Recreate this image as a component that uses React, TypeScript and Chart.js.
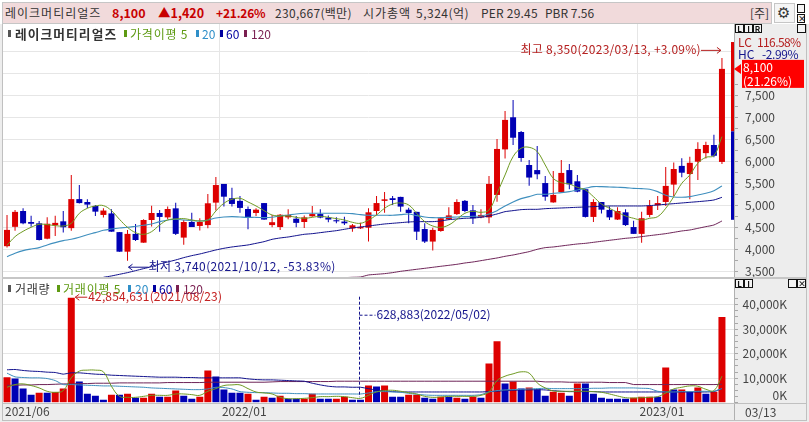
import React, { useEffect, useRef } from "react";
import { Chart, registerables } from "chart.js";

Chart.register(...registerables);

const FONT = '"Noto Sans CJK KR", "Noto Sans", sans-serif';
const RED = "#dd0000";
const BLUE = "#0000b4";
const C_MA5 = "#6f9a22";
const C_MA20 = "#3f8fbe";
const C_MA60 = "#10108c";
const C_MA120 = "#6e2458";

const tickIndexes = [0, 27, 79];
const tickTexts = ["2021/06", "2022/01", "2023/01"];
const priceTicks = [3500,3750,4000,4250,4500,4750,5000,5250,5500,5750,6000,6250,6500,6750,7000,7250,7500,7750,8000,8500];
const volumeTicks = [0,2500,5000,7500,10000,12500,15000,17500,20000,22500,25000,27500,30000,32500,35000,37500,40000,42500];

const open = [
  4070,4510,4870,4620,4590,4240,4545,4635,4480,5140,
  5075,4985,4780,4815,4390,3945,4350,4150,4665,4825,
  4725,4930,4265,4620,4530,4550,5060,5485,5160,5100,
  4915,4825,5050,4550,4505,4725,4695,4620,4750,4800,
  4720,4660,4630,4475,4475,4490,4870,5100,5160,5190,
  4900,4850,4460,4175,4415,4680,4800,5100,4885,4725,
  4725,5235,6270,7000,6665,5915,5800,5505,5065,5300,
  5800,5545,5365,4735,5075,4895,4675,4840,4505,4350,
  4780,5000,5075,5470,5895,5710,5990,6185,6370,5985,
];
const high = [
  4780,4890,4930,4760,4640,4730,4760,4870,5690,5460,
  5135,5005,4930,4910,4390,4440,4575,4680,4990,4895,
  4970,5060,4665,4830,4705,5255,5645,5485,5400,5210,
  4970,4930,5050,4780,4800,4910,4755,4765,4985,4910,
  4770,4725,4740,4575,4605,4930,5210,5300,5210,5195,
  4945,4855,4590,4490,4725,4955,5135,5120,5005,4910,
  5665,6505,7145,7395,6690,6030,6345,5665,5780,6030,
  5940,5690,5365,5135,5075,4970,4955,4910,4650,4850,
  5120,5210,5870,5970,6070,6105,6430,6445,6600,8350,
];
const low = [
  4040,4420,4570,4510,4200,4230,4300,4380,4420,5040,
  4940,4755,4720,4400,3945,3740,4190,4150,4515,4400,
  4690,4325,4105,4505,4425,4475,4880,4970,4970,4830,
  4455,4755,4670,4500,4440,4680,4500,4485,4740,4705,
  4615,4590,4550,4400,4460,4175,4780,4830,5005,4855,
  4590,4210,4145,3970,4400,4665,4780,4840,4575,4705,
  4590,5080,6065,6370,5990,5445,5590,5105,5060,5285,
  5365,5295,4720,4620,4815,4665,4665,4530,4350,4150,
  4725,4895,4985,5210,5635,5135,5575,6065,6090,5940,
];
const close = [
  4440,4850,4590,4580,4210,4580,4600,4500,5140,5050,
  5015,4855,4880,4400,3945,4350,4210,4665,4825,4735,
  4915,4350,4620,4505,4620,5045,5460,5195,5030,4940,
  4725,4900,4675,4615,4785,4780,4600,4725,4800,4720,
  4675,4635,4590,4545,4505,4840,5050,5135,5120,4970,
  4825,4400,4175,4440,4705,4770,5075,4870,4705,4780,
  5485,6280,6940,6535,6075,5630,5705,5195,5235,5735,
  5475,5310,4735,5075,4900,4725,4870,4550,4350,4705,
  4990,5050,5440,5825,5740,5965,6280,6370,6125,8100,
];
const priceMa5 = [
  4090,4287,4408,4499,4567,4560,4537,4529,4590,4817,
  4931,4984,4992,4878,4681,4499,4378,4340,4401,4552,
  4666,4689,4696,4666,4643,4666,4870,5045,5135,5158,
  5075,4984,4878,4779,4757,4757,4726,4704,4726,4749,
  4726,4696,4666,4613,4590,4666,4779,4931,5029,5052,
  5007,4817,4628,4529,4499,4552,4681,4817,4863,4840,
  4893,5272,5689,6105,6295,6317,6219,5916,5613,5514,
  5484,5408,5348,5196,5029,4931,4840,4757,4704,4666,
  4704,4742,4931,5196,5499,5689,5954,6090,6128,6560,
];
const priceMa20 = [
  3832,3908,3969,4007,4037,4098,4151,4196,4226,4272,
  4332,4378,4431,4461,4484,4499,4522,4545,4575,4628,
  4666,4681,4666,4651,4643,4666,4711,4734,4742,4734,
  4726,4726,4719,4726,4757,4779,4802,4817,4817,4817,
  4817,4817,4817,4810,4787,4772,4772,4772,4772,4787,
  4802,4764,4734,4719,4719,4726,4734,4742,4749,4757,
  4802,4878,4984,5075,5151,5196,5249,5249,5272,5287,
  5310,5348,5385,5423,5423,5416,5408,5401,5385,5378,
  5363,5310,5226,5189,5181,5196,5234,5272,5332,5439,
];
const priceMa60 = [
  null,null,null,null,null,null,null,null,null,null,
  null,null,3363,3393,3431,3469,3514,3560,3605,3666,
  3711,3757,3810,3855,3893,3938,3984,4022,4052,4075,
  4098,4135,4173,4226,4257,4279,4310,4340,4355,4378,
  4401,4423,4454,4484,4507,4529,4552,4575,4590,4605,
  4620,4628,4628,4628,4643,4673,4689,4704,4711,4726,
  4757,4802,4855,4878,4901,4908,4908,4923,4931,4938,
  4946,4954,4961,4969,4976,4984,4984,4984,4984,4984,
  4992,5007,5022,5037,5052,5067,5082,5098,5120,5181,
];
const priceMa120 = [
  null,null,null,null,null,null,null,null,null,null,
  null,null,null,null,null,null,null,null,null,null,
  null,null,null,null,null,null,null,null,null,null,
  null,null,null,null,null,null,null,null,null,null,
  null,null,3355,3363,3370,3416,3431,3446,3469,3499,
  3522,3545,3567,3590,3613,3635,3658,3688,3711,3741,
  3772,3802,3840,3870,3908,3946,3999,4037,4052,4075,
  4098,4120,4135,4158,4181,4204,4226,4249,4264,4287,
  4310,4332,4355,4385,4416,4438,4476,4514,4552,4643,
];
const rangeLevels = [8710, 6680, 4670];

const volume = [
  10400,9860,5750,3290,4110,4110,4380,5750,42855,8630,
  3700,2880,1230,3290,3290,3700,2055,2055,3700,2470,
  2470,4930,2880,1640,2470,13150,10690,5340,4110,4110,
  3700,1230,2470,2055,2880,1640,1640,1640,3700,1640,
  1640,1640,2470,1230,629,6990,6580,6990,2470,2470,
  3290,3290,2055,1640,2470,2470,2055,1640,2470,2055,
  16030,25070,7810,8630,5750,6165,5340,2880,4520,4110,
  2880,7810,7810,3700,2055,1640,1640,1640,2055,2470,
  2470,2470,14385,5340,5340,4520,6165,3700,4520,34935,
];
const volumeUp = [
  1,0,0,0,1,0,1,1,1,0,
  0,0,0,1,0,1,0,1,1,0,
  1,1,0,0,1,1,0,0,0,0,
  1,0,1,0,1,0,0,1,1,0,
  0,1,1,0,0,1,0,1,0,0,
  1,1,0,0,1,0,1,0,1,0,
  1,1,0,1,0,1,0,0,1,1,
  0,1,0,0,0,0,0,0,1,1,
  1,0,1,0,1,0,1,0,1,1,
];
const volMa5 = [
  6300,7400,7670,7000,6030,4660,4250,4930,10140,12880,
  13290,13290,12600,6710,2600,2190,2190,2600,3010,3010,
  3010,3560,3560,3290,3010,4660,5750,7000,7260,7260,
  5750,4380,3970,3560,2190,1640,1640,1780,2050,2470,
  2470,2600,2470,2050,1780,3010,4380,4930,5070,4660,
  4110,3560,2600,2190,2330,2600,2600,2600,2600,3010,
  4380,9040,10820,11780,12600,12060,8080,6030,4800,4660,
  4660,4660,4660,4520,4250,3560,2740,2050,1920,2050,
  2190,2470,3970,5620,6300,6850,6710,5480,4930,10820,
];
const volMa20 = [
  12060,10550,10280,10140,10140,9860,9040,7400,7400,7260,
  7120,7000,6850,6850,6710,6580,6440,6300,6030,5890,
  5750,5620,5480,5340,5340,5620,6300,6170,5620,4520,
  4250,4110,4110,3970,3840,3840,3700,3700,3560,3560,
  3560,3560,3560,3560,3560,3970,4520,4520,4380,4250,
  3840,3430,3150,3010,3010,3010,3010,3010,3010,3290,
  4380,4930,5210,5340,5480,5620,5750,5890,5750,5750,
  5750,5750,5750,5890,5890,6030,6030,6030,6030,5890,
  5750,4660,4380,4380,4520,4520,4660,4660,4660,5750,
];
const volMa60 = [
  13430,13560,13150,12880,12740,12470,12330,11650,12190,12190,
  11920,11650,11510,11230,11100,10960,10820,10690,10550,10410,
  10410,10410,10280,10280,10140,10140,10140,10140,10140,10140,
  9730,9450,9320,9320,9180,9040,8900,8770,7950,7260,
  6710,6440,6440,6300,6300,5750,5070,4800,4520,4380,
  4380,4380,4380,4380,4380,4380,4380,4380,4380,4380,
  4520,4660,4930,5070,5210,5210,5340,5210,4930,4660,
  4520,4520,4520,4520,4380,4380,4380,4380,4380,4380,
  4380,4380,4380,4380,4380,4380,4380,4380,4520,5750,
];
const volMa120 = [
  7120,7120,7250,7250,7400,7400,7530,7670,7670,7810,
  7810,7950,7950,7950,8080,8080,8080,8080,8080,8080,
  8220,8220,8220,8220,8220,8360,8360,8360,8360,8360,
  8360,8360,8360,8490,8630,8630,8630,8630,8630,8630,
  8630,8770,8770,8770,8770,8770,8770,8770,8770,8770,
  8770,8770,8770,8770,8770,8770,8770,8770,8770,8770,
  8770,8770,8770,8770,8770,8770,8770,8490,8490,8490,
  8360,8360,8360,8360,8360,8220,8220,8220,7400,7400,
  7400,7400,7400,7400,7400,7400,7400,7400,7400,7530,
];

const lowestVolumeIndex = 44;
const peakVolumeIndex = 8;
const lastIndex = 89;
const lowPriceIndex = 15;

const categories = Array.from({ length: 91 }, (_, i) => {
  const k = tickIndexes.indexOf(i);
  return k >= 0 ? tickTexts[k] : "";
});
const xGridColor = (ctx: any) =>
  tickIndexes.includes(ctx.index) && ctx.index !== 0 ? "#e6e6e6" : "rgba(0,0,0,0)";

function line(label: string, data: any[], color: string, width: number, tension: number) {
  return {
    type: "line",
    label,
    data,
    borderColor: color,
    borderWidth: width,
    pointRadius: 0,
    tension,
    order: 0,
    spanGaps: false,
  };
}

function arrow(ctx: CanvasRenderingContext2D, x1: number, x2: number, y: number, color: string) {
  ctx.strokeStyle = color;
  ctx.lineWidth = 1;
  ctx.beginPath();
  ctx.moveTo(x1, y + 0.5);
  ctx.lineTo(x2, y + 0.5);
  const d = x2 > x1 ? -1 : 1;
  ctx.moveTo(x2 + d * 4, y - 2.5);
  ctx.lineTo(x2, y + 0.5);
  ctx.lineTo(x2 + d * 4, y + 3.5);
  ctx.stroke();
}

const noPadding = (s: any) => {
  s.paddingTop = 0;
  s.paddingBottom = 0;
  s.paddingLeft = 0;
  s.paddingRight = 0;
};

const panelBg = {
  id: "panelBg",
  beforeDraw(chart: any) {
    const { ctx, chartArea: a, width, height } = chart;
    ctx.save();
    ctx.fillStyle = "#ededed";
    ctx.fillRect(0, 0, width, height);
    ctx.fillStyle = "#ffffff";
    ctx.fillRect(a.left, a.top, a.right - a.left, a.bottom - a.top);
    ctx.restore();
  },
};

const priceNotes = {
  id: "priceNotes",
  afterDraw(chart: any) {
    const { ctx, chartArea: a } = chart;
    const x = chart.scales.x;
    const y = chart.scales.y;
    ctx.save();
    ctx.font = `12px ${FONT}`;
    ctx.textBaseline = "middle";

    const yA = y.getPixelForValue(rangeLevels[0]);
    const yB = y.getPixelForValue(rangeLevels[1]);
    const yC = y.getPixelForValue(rangeLevels[2]);
    ctx.fillStyle = RED;
    ctx.fillRect(a.right - 3, yA, 3, yB - yA);
    ctx.fillStyle = BLUE;
    ctx.fillRect(a.right - 3, yB, 3, yC - yB);

    const hx = x.getPixelForValue(lastIndex);
    const hy = y.getPixelForValue(high[lastIndex]) - 8;
    ctx.fillStyle = "#b52020";
    ctx.textAlign = "right";
    (ctx as any).letterSpacing = "0.28px";
    ctx.fillText("최고 8,350(2023/03/13, +3.09%)", hx - 21, hy);
    (ctx as any).letterSpacing = "0px";
    arrow(ctx, hx - 21, hx - 1, hy, "#b52020");

    const lx = x.getPixelForValue(lowPriceIndex);
    const ly = y.getPixelForValue(low[lowPriceIndex]) + 6;
    ctx.fillStyle = "#14148c";
    ctx.textAlign = "left";
    (ctx as any).letterSpacing = "0.36px";
    ctx.fillText("최저 3,740(2021/10/12, -53.83%)", lx + 21, ly);
    (ctx as any).letterSpacing = "0px";
    arrow(ctx, lx + 21, lx + 1, ly, "#14148c");

    const py = y.getPixelForValue(close[lastIndex]);
    ctx.fillStyle = "#ff0000";
    ctx.beginPath();
    ctx.moveTo(a.right, py);
    ctx.lineTo(a.right + 7, py - 5);
    ctx.lineTo(a.right + 7, py + 5);
    ctx.closePath();
    ctx.fill();
    ctx.fillRect(a.right + 8, py - 9, 62, 28);
    ctx.fillStyle = "#ffffff";
    ctx.fillText("8,100", a.right + 9, py - 1.5);
    ctx.fillText("(21.26%)", a.right + 9, py + 12.5);
    ctx.restore();
  },
};

const volumeNotes = {
  id: "volumeNotes",
  afterDraw(chart: any) {
    const { ctx } = chart;
    const x = chart.scales.x;
    const y = chart.scales.y;
    ctx.save();
    ctx.font = `12px ${FONT}`;
    ctx.textBaseline = "middle";
    ctx.textAlign = "left";

    const px = x.getPixelForValue(peakVolumeIndex);
    const py = y.getPixelForValue(volume[peakVolumeIndex]) - 1;
    ctx.fillStyle = "#c42020";
    (ctx as any).letterSpacing = "0.14px";
    ctx.fillText("42,854,631(2021/08/23)", px + 17, py);
    (ctx as any).letterSpacing = "0px";
    arrow(ctx, px + 16, px + 4, py, "#c42020");

    const lx = Math.round(x.getPixelForValue(lowestVolumeIndex)) - 0.5;
    const top = py;
    const bottom = y.getPixelForValue(volume[lowestVolumeIndex]) - 4;
    ctx.strokeStyle = "#14148c";
    ctx.lineWidth = 1;
    ctx.setLineDash([3, 2]);
    ctx.beginPath();
    ctx.moveTo(lx, top);
    ctx.lineTo(lx, bottom);
    ctx.moveTo(lx, top + 18.5);
    ctx.lineTo(lx + 16, top + 18.5);
    ctx.stroke();
    ctx.setLineDash([]);
    ctx.fillStyle = "#14148c";
    ctx.fillText("628,883(2022/05/02)", lx + 17, top + 18);
    ctx.restore();
  },
};

function T(p: { x: number; y: number; c?: string; b?: boolean; s?: number; ls?: number; children: any }) {
  return (
    <span
      style={{
        position: "absolute",
        left: p.x,
        top: p.y - 8,
        height: 16,
        font: `${p.b ? "bold " : ""}${p.s ?? 12}px/16px ${FONT}`,
        letterSpacing: p.ls ?? 0,
        color: p.c ?? "#333",
        whiteSpace: "pre",
      }}
    >
      {p.children}
    </span>
  );
}

function Box(p: { x: number; y: number; w: number; h: number; bg?: string; border?: string }) {
  return (
    <div
      style={{
        position: "absolute",
        left: p.x,
        top: p.y,
        width: p.w,
        height: p.h,
        background: p.bg,
        border: p.border,
        boxSizing: "border-box",
      }}
    />
  );
}

function BoxBtn(p: { x: number; y: number; w?: number; t?: string }) {
  return (
    <div
      style={{
        position: "absolute",
        left: p.x,
        top: p.y,
        width: p.w ?? 9,
        height: 9,
        boxSizing: "border-box",
        border: "1px solid #111",
        background: "#f4f4f4",
        font: `bold 8px/7px ${FONT}`,
        textAlign: "center",
        color: "#111",
      }}
    >
      {p.t}
    </div>
  );
}

export default function App() {
  const priceRef = useRef<HTMLCanvasElement>(null);
  const volRef = useRef<HTMLCanvasElement>(null);

  useEffect(() => {
    const priceChart = new Chart(priceRef.current as any, {
      data: {
        labels: categories,
        datasets: [
          line("5", priceMa5, C_MA5, 1, 0.4),
          line("20", priceMa20, C_MA20, 1.1, 0.3),
          line("60", priceMa60, C_MA60, 1, 0.2),
          line("120", priceMa120, C_MA120, 1, 0.2),
          {
            type: "bar",
            label: "body",
            data: open.map((o, i) => [o, close[i]]),
            backgroundColor: open.map((o, i) => (close[i] >= o ? RED : BLUE)),
            barThickness: 6,
            grouped: false,
            minBarLength: 1,
            inflateAmount: 0,
            order: 1,
          },
          {
            type: "bar",
            label: "wick",
            data: low.map((l, i) => [l, high[i]]),
            backgroundColor: open.map((o, i) => (close[i] >= o ? RED : BLUE)),
            barThickness: 1,
            grouped: false,
            inflateAmount: 0,
            order: 2,
          },
        ],
      } as any,
      options: {
        responsive: false,
        animation: false,
        devicePixelRatio: 1,
        layout: { padding: { left: 3, right: 34, top: 0, bottom: 0 }, autoPadding: false },
        plugins: { legend: { display: false }, tooltip: { enabled: false } },
        scales: {
          x: {
            type: "category",
            ticks: { display: false, autoSkip: false },
            border: { display: false },
            grid: { offset: true, drawTicks: false, color: xGridColor, lineWidth: 1 },
            afterFit: (s: any) => { s.height = 0; noPadding(s); },
          },
          y: {
            position: "right",
            min: 3347,
            max: 9120,
            bounds: "data",
            border: { color: "#b0b0b0" },
            afterBuildTicks: (s: any) => { s.ticks = priceTicks.map((value) => ({ value })); },
            ticks: {
              autoSkip: false,
              padding: 8,
              crossAlign: "far",
              color: "#444",
              font: { family: FONT, size: 12 },
              callback: (v: any) => (v % 500 === 0 && v <= 7500 ? Number(v).toLocaleString("en-US") : ""),
            },
            grid: {
              tickLength: 4,
              tickColor: (c: any) => (c.tick && c.tick.value <= 7750 ? "#a8a8a8" : "rgba(0,0,0,0)"),
              color: (c: any) => (c.tick && c.tick.value % 500 === 0 ? "#e6e6e6" : "rgba(0,0,0,0)"),
            },
            afterFit: (s: any) => { s.width = 41; noPadding(s); },
          },
        },
      } as any,
      plugins: [panelBg, priceNotes],
    });

    const volChart = new Chart(volRef.current as any, {
      data: {
        labels: categories,
        datasets: [
          line("5", volMa5, C_MA5, 1, 0.4),
          line("20", volMa20, C_MA20, 1, 0.2),
          line("60", volMa60, C_MA60, 1, 0.1),
          line("120", volMa120, C_MA120, 1, 0),
          {
            type: "bar",
            label: "volume",
            data: volume,
            backgroundColor: volumeUp.map((u) => (u ? RED : BLUE)),
            barThickness: 7,
            minBarLength: 3,
            inflateAmount: 0,
            order: 1,
          },
        ],
      } as any,
      options: {
        responsive: false,
        animation: false,
        devicePixelRatio: 1,
        layout: { padding: { left: 3, right: 22, top: 0, bottom: 0 }, autoPadding: false },
        plugins: { legend: { display: false }, tooltip: { enabled: false } },
        scales: {
          x: {
            type: "category",
            border: { display: false },
            ticks: {
              autoSkip: false,
              maxRotation: 0,
              align: "start",
              labelOffset: -2,
              padding: 2,
              color: "#444",
              font: { family: FONT, size: 12 },
              callback: (_: any, i: number) => categories[i],
            },
            grid: { offset: true, drawTicks: false, color: xGridColor, lineWidth: 1 },
            afterFit: (s: any) => { s.height = 19.3; noPadding(s); },
          },
          y: {
            position: "right",
            min: 0,
            max: 50900,
            bounds: "data",
            border: { color: "#b0b0b0" },
            afterBuildTicks: (s: any) => { s.ticks = volumeTicks.map((value) => ({ value })); },
            ticks: {
              autoSkip: false,
              padding: 8,
              crossAlign: "far",
              color: "#444",
              font: { family: FONT, size: 12 },
              callback: (v: any) => {
                if (v === 0) return ["0K", ""];
                return v % 10000 === 0 ? Number(v).toLocaleString("en-US") + "K" : "";
              },
            },
            grid: {
              tickLength: 4,
              tickColor: "#a8a8a8",
              color: (c: any) =>
                c.tick && c.tick.value % 10000 === 0 && c.tick.value > 0 ? "#e6e6e6" : "rgba(0,0,0,0)",
            },
            afterFit: (s: any) => { s.width = 53; noPadding(s); },
          },
        },
      } as any,
      plugins: [panelBg, volumeNotes],
    });

    return () => {
      priceChart.destroy();
      volChart.destroy();
    };
  }, []);

  return (
    <div style={{ position: "fixed", left: 0, top: 0, width: 809, height: 422, overflow: "hidden", background: "#fff", fontFamily: FONT }}>
      <canvas ref={priceRef} width={809} height={254} style={{ position: "absolute", left: 0, top: 24, display: "block" }} />
      <canvas ref={volRef} width={809} height={144} style={{ position: "absolute", left: 0, top: 278, display: "block" }} />

      <Box x={2} y={2} w={770} h={22} bg="#f1dadb" border="1px solid #c6c6c6" />
      <T x={5} y={12.5} ls={1}>레이크머티리얼즈</T>
      <T x={112} y={12.5} c="#c80000" b s={12.5}>8,100</T>
      <T x={158} y={12.5} c="#c80000" b s={12.5}>▲1,420</T>
      <T x={216} y={12.5} c="#c80000" b s={12} ls={-0.2}>+21.26%</T>
      <T x={275} y={12.5} ls={0.3}>230,667(백만)</T>
      <T x={363} y={12.5} ls={1}>시가총액</T>
      <T x={416} y={12.5} ls={0.5}>5,324(억)</T>
      <T x={481} y={12.5} ls={0.2}>PER 29.45</T>
      <T x={545} y={12.5}>PBR 7.56</T>
      <T x={750} y={12.5}>[주]</T>
      <Box x={774} y={3} w={21} h={20} bg="#f5f5f5" border="1px solid #c6c6c6" />
      <span style={{ position: "absolute", left: 777, top: 3, font: `15px/20px "DejaVu Sans"`, color: "#333" }}>⚙</span>
      <BoxBtn x={797} y={4} w={8} />
      <BoxBtn x={797} y={14} w={8} t="×" />

      <Box x={8} y={30} w={3} h={7} bg="#555" />
      <T x={15} y={33.5} c="#333" b s={12.7} ls={1.1}>레이크머티리얼즈</T>
      <Box x={124} y={30} w={3} h={7} bg="#5e9a13" />
      <T x={130} y={33.5} c="#5e9a13" ls={0.8}>가격이평 5</T>
      <Box x={196} y={30} w={3} h={7} bg="#2f8fc8" />
      <T x={202} y={33.5} c="#2f8fc8">20</T>
      <Box x={220} y={30} w={3} h={7} bg="#0000a0" />
      <T x={226} y={33.5} c="#0000a0">60</T>
      <Box x={244} y={30} w={3} h={7} bg="#7a1f50" />
      <T x={251} y={33.5} c="#7a1f50">120</T>

      <BoxBtn x={735} y={24} t="L" />
      <BoxBtn x={744} y={24} t="I" />
      <BoxBtn x={753} y={24} t="R" />
      <BoxBtn x={797} y={24} />
      <T x={738} y={41.5} c="#b52020">LC</T>
      <T x={757} y={41.5} c="#b52020" ls={-0.6}>116.58%</T>
      <T x={738} y={53.5} c="#14148c">HC</T>
      <T x={762} y={53.5} c="#14148c" ls={-0.4}>-2.99%</T>

      <Box x={8} y={285} w={3} h={7} bg="#555" />
      <T x={15} y={288.5} c="#333" ls={0.7}>거래량</T>
      <Box x={57} y={285} w={3} h={7} bg="#5e9a13" />
      <T x={63} y={288.5} c="#5e9a13" ls={0.8}>거래이평 5</T>
      <Box x={128} y={285} w={3} h={7} bg="#2f8fc8" />
      <T x={135} y={288.5} c="#2f8fc8">20</T>
      <Box x={153} y={285} w={3} h={7} bg="#0000a0" />
      <T x={159} y={288.5} c="#0000a0">60</T>
      <Box x={176} y={285} w={3} h={7} bg="#7a1f50" />
      <T x={183} y={288.5} c="#7a1f50">120</T>

      <BoxBtn x={735} y={279} t="L" />
      <BoxBtn x={744} y={279} t="I" />
      <BoxBtn x={788} y={279} />
      <BoxBtn x={797} y={279} t="×" />
      <T x={745} y={412} c="#444">03/13</T>

      <Box x={2} y={24} w={1} h={397} bg="#c0c0c0" />
      <Box x={806} y={24} w={1} h={397} bg="#c0c0c0" />
      <Box x={2} y={277} w={805} h={2} bg="#c6c6c6" />
      <Box x={2} y={403} w={805} h={1} bg="#c0c0c0" />
      <Box x={2} y={420} w={805} h={1} bg="#c0c0c0" />
      <Box x={734} y={404} w={1} h={16} bg="#b0b0b0" />
    </div>
  );
}
